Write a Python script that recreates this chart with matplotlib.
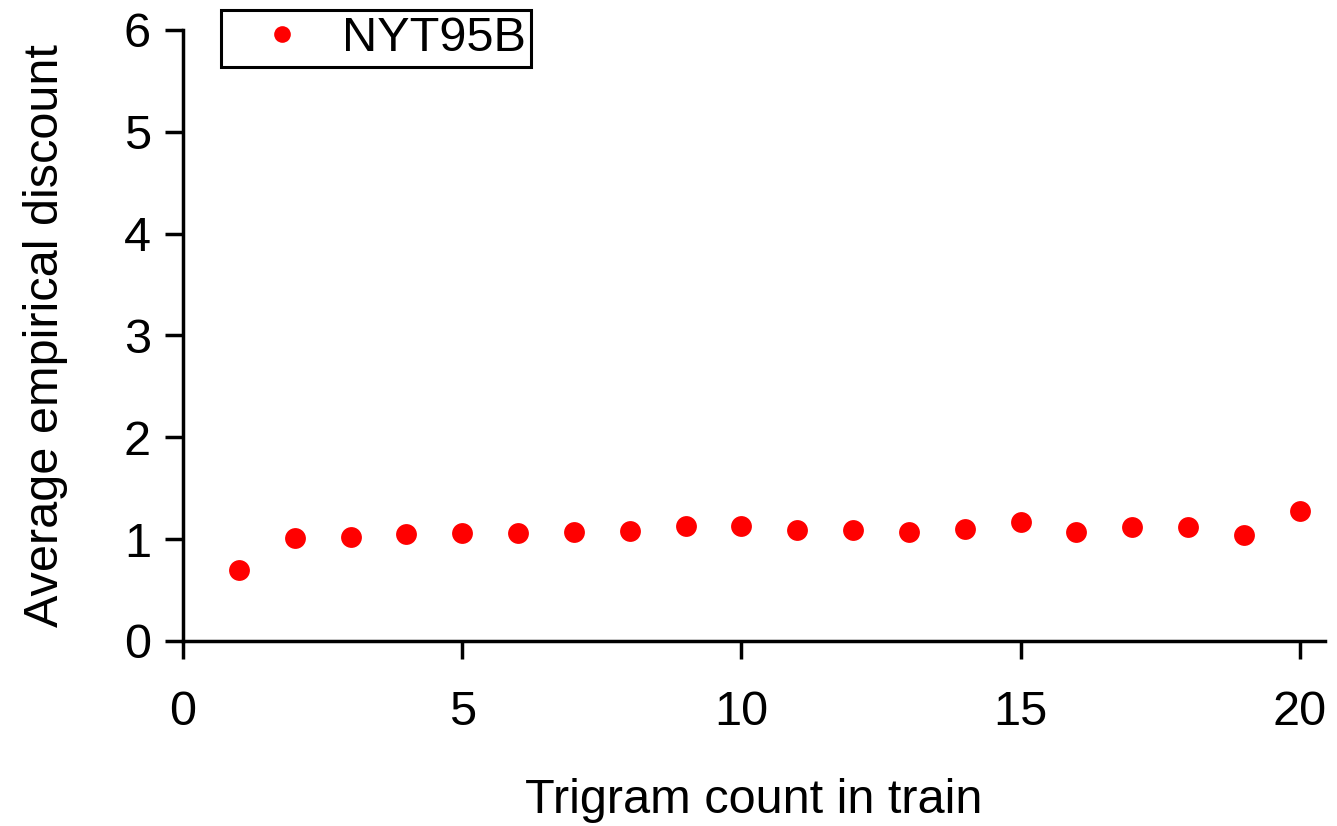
import matplotlib
matplotlib.use("Agg")
import matplotlib.pyplot as plt

plt.rcParams["font.family"] = ["Liberation Sans", "DejaVu Sans"]

counts = list(range(1, 21))
discount = [0.70, 1.01, 1.02, 1.05, 1.06, 1.06, 1.07, 1.08, 1.13, 1.13,
            1.09, 1.09, 1.07, 1.10, 1.17, 1.07, 1.12, 1.12, 1.04, 1.28]
series_name = "NYT95B"
x_ticks = [0, 5, 10, 15, 20]
y_ticks = [0, 1, 2, 3, 4, 5, 6]

fig = plt.figure(figsize=(13.37, 8.26), dpi=100)
ax = fig.add_axes([0.1369, 0.224, 0.991 - 0.1369, 0.9637 - 0.224])

ax.plot(counts, discount, linestyle="none", marker="o", markersize=15,
        color="#ff0000", markeredgewidth=0, label=series_name)

ax.set_xlim(0, 20.45)
ax.set_ylim(0, 6)
ax.set_xticks(x_ticks)
ax.set_yticks(y_ticks)

# R-style axes: only left and bottom lines, ticks pointing out
for side in ("top", "right"):
    ax.spines[side].set_visible(False)
for side in ("left", "bottom"):
    ax.spines[side].set_linewidth(2.5)

ax.tick_params(axis="both", direction="out", length=13, width=2.5,
               labelsize=35, color="black")
ax.tick_params(axis="x", pad=22)
ax.tick_params(axis="y", pad=10)

ax.set_xlabel("Trigram count in train", fontsize=35, labelpad=31)
ax.set_ylabel("Average empirical discount", fontsize=35, labelpad=40)

leg = ax.legend(loc="upper left", bbox_to_anchor=(221 / 1337, 1 - 10 / 826),
                bbox_transform=fig.transFigure, borderaxespad=0, fontsize=35,
                fancybox=False, framealpha=1, edgecolor="black",
                markerscale=0.8, handletextpad=0.1, borderpad=0.12,
                handlelength=2.26)
leg.get_frame().set_linewidth(2.2)

fig.savefig("out.png", dpi=100)
